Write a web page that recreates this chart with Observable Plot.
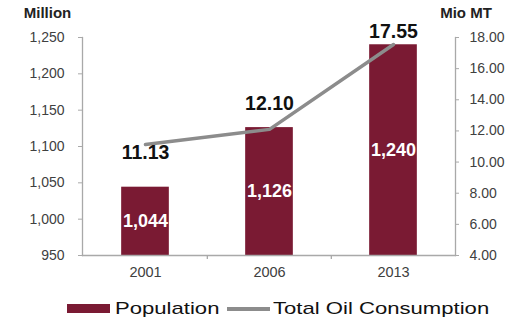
<!DOCTYPE html>
<html>
<head>
<meta charset="utf-8">
<script src="https://cdn.jsdelivr.net/npm/d3@7"></script>
<script src="https://cdn.jsdelivr.net/npm/@observablehq/plot@0.6"></script>
<style>
  body { margin: 0; background: #fff; font-family: "Liberation Sans", Arial, sans-serif; }
  #chart { width: 512px; }
  .legend { position: relative; width: 512px; height: 33px; }
  .legend .sw { position: absolute; }
  .legend .lbl { position: absolute; font-size: 17px; color: #111; transform: scaleX(1.3); transform-origin: left center; white-space: nowrap; line-height: 17px; }
</style>
</head>
<body>
<div id="chart"></div>
<script>
const years = ["2001", "2006", "2013"];
const population = [1044, 1126, 1240];
const oilConsumption = [11.13, 12.10, 17.55];
const leftTicks = [950, 1000, 1050, 1100, 1150, 1200, 1250];
const rightTicks = [4, 6, 8, 10, 12, 14, 16, 18];
const leftTitle = "Million";
const rightTitle = "Mio MT";
const seriesNames = ["Population", "Total Oil Consumption"];

const leftDomain = [950, 1250];
const rightDomain = [4, 18];
const toLeft = v => leftDomain[0] + (v - rightDomain[0]) * (leftDomain[1] - leftDomain[0]) / (rightDomain[1] - rightDomain[0]);
const fromLeft = d => rightDomain[0] + (d - leftDomain[0]) * (rightDomain[1] - rightDomain[0]) / (leftDomain[1] - leftDomain[0]);

const popData = years.map((y, i) => ({year: y, value: population[i]}));
const oilData = years.map((y, i) => ({year: y, value: oilConsumption[i], yy: toLeft(oilConsumption[i])}));

const W = 512, H = 290, mL = 82, mR = 57, mT = 37, mB = 35;
const step = (W - mL - mR) / years.length;
const barW = 48;
const inset = (step - barW) / 2;
const barColor = "#7a1a33";
const lineColor = "#8c8c8c";
const axisColor = "#a9a9a9";
const labelOffsets = [8, -25.5, -13];

const marks = [
  Plot.barY(popData, {x: "year", y1: leftDomain[0], y2: "value", fill: barColor, insetLeft: inset, insetRight: inset}),
  Plot.frame({anchor: "left", stroke: axisColor, strokeWidth: 1.3}),
  Plot.frame({anchor: "right", stroke: axisColor, strokeWidth: 1.3}),
  Plot.frame({anchor: "bottom", stroke: axisColor, strokeWidth: 1.3}),
  Plot.ruleX(years.slice(1), {x: d => d, dx: -step / 2, y1: leftDomain[0], y2: leftDomain[0] - 5.5, stroke: axisColor, strokeWidth: 1.3, clip: false}),
  Plot.axisX({tickSize: 0, tickPadding: 11, fontSize: 14.5, label: null, fill: "#404040"}),
  Plot.axisY({ticks: leftTicks, tickFormat: d3.format(","), tickSize: 4, tickPadding: 14, stroke: axisColor, fill: "#404040", fontSize: 14, label: null}),
  Plot.axisY({anchor: "right", ticks: rightTicks.map(toLeft), tickFormat: d => fromLeft(d).toFixed(2), tickSize: 3, tickPadding: 11, stroke: axisColor, fill: "#404040", fontSize: 14, label: null}),
  Plot.line(oilData, {x: "year", y: "yy", stroke: lineColor, strokeWidth: 3.5}),
  Plot.text(popData, {x: "year", y: d => (leftDomain[0] + d.value) / 2, text: d => d3.format(",")(d.value), fill: "white", fontWeight: "bold", fontSize: 18}),
  ...oilData.map((d, i) => Plot.text([d], {x: "year", y: "yy", text: e => e.value.toFixed(2), dy: labelOffsets[i], fill: "#111", fontWeight: "bold", fontSize: 19.5})),
  Plot.text([leftTitle], {frameAnchor: "top-left", text: d => d, dx: -35, dy: -24, textAnchor: "middle", lineAnchor: "middle", fontWeight: "bold", fontSize: 15, fill: "#222"}),
  Plot.text([rightTitle], {frameAnchor: "top-right", text: d => d, dx: 10.5, dy: -24, textAnchor: "middle", lineAnchor: "middle", fontWeight: "bold", fontSize: 15, fill: "#222"})
];

const chart = Plot.plot({
  width: W, height: H,
  marginLeft: mL, marginRight: mR, marginTop: mT, marginBottom: mB,
  style: {fontFamily: "'Liberation Sans', Arial, sans-serif", background: "white", color: "#404040", overflow: "visible"},
  x: {domain: years, padding: 0, axis: null},
  y: {domain: leftDomain, axis: null},
  marks
});
document.getElementById("chart").appendChild(chart);

const legend = document.createElement("div");
legend.className = "legend";
const sw1 = document.createElement("div");
sw1.className = "sw";
Object.assign(sw1.style, {left: "67px", top: "14px", width: "43px", height: "9px", background: barColor});
const t1 = document.createElement("div");
t1.className = "lbl";
t1.textContent = seriesNames[0];
Object.assign(t1.style, {left: "115px", top: "10px"});
const sw2 = document.createElement("div");
sw2.className = "sw";
Object.assign(sw2.style, {left: "227px", top: "16.5px", width: "43px", height: "4px", background: lineColor});
const t2 = document.createElement("div");
t2.className = "lbl";
t2.textContent = seriesNames[1];
Object.assign(t2.style, {left: "273px", top: "10px"});
legend.append(sw1, t1, sw2, t2);
document.getElementById("chart").appendChild(legend);
</script>
</body>
</html>
